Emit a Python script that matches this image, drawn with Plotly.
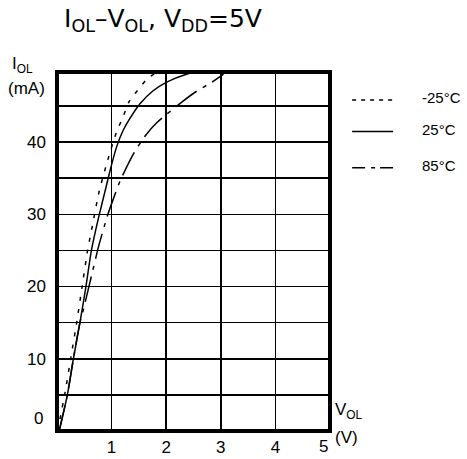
import plotly.graph_objects as go

# -25°C curve
v_m25 = [0.01, 0.14, 0.25, 0.36, 0.46, 0.56, 0.65, 0.77, 0.91, 1.09, 1.20, 1.32, 1.47, 1.67, 1.85]
i_m25 = [0, 5, 10, 15, 20, 25, 28.5, 33.1, 37.0, 41.4, 43.3, 45.6, 47.1, 48.9, 49.7]
# 25°C curve
v_25 = [0.04, 0.19, 0.30, 0.42, 0.53, 0.63, 0.76, 0.88, 0.97, 1.09, 1.21, 1.33, 1.52, 1.76, 2.01, 2.37, 2.55]
i_25 = [0, 5, 10, 15, 20, 25, 29.5, 33.2, 36.0, 39.3, 41.6, 43.2, 45.3, 47.1, 48.3, 49.4, 49.7]
# 85°C curve
v_85 = [0.04, 0.19, 0.30, 0.42, 0.48, 0.61, 0.77, 0.92, 1.03, 1.16, 1.41, 1.61, 1.83, 2.28, 2.55, 2.84, 3.05]
i_85 = [0, 5, 10, 15, 16.7, 20.8, 25.8, 29.7, 32.1, 34.7, 38.5, 40.8, 42.7, 45.5, 47.0, 48.3, 49.4]

series_names = ["-25°C", "25°C", "85°C"]
x_tickvals = [1, 2, 3, 4]
x_ticktext = ["1", "2", "3", "4"]
y_tickvals = [10, 20, 30, 40]
y_ticktext = ["10", "20", "30", "40"]

FONT = "Liberation Sans, Arial, sans-serif"
dashes = ["4px,8px", "solid", "26px,7px,4px,7px"]
legend_dashes = ["4px,5px", "solid", "13px,6px,4px,5px"]

fig = go.Figure()
for v, i, name, d in zip([v_m25, v_25, v_85], [i_m25, i_25, i_85], series_names, dashes):
    fig.add_trace(go.Scatter(x=v, y=i, mode="lines", name=name,
                             line=dict(color="black", width=1.5, dash=d, shape="spline", smoothing=0.6),
                             showlegend=False, hoverinfo="skip"))

fig.update_layout(
    width=467, height=459,
    margin=dict(l=57, r=137, t=72, b=28, autoexpand=False),
    paper_bgcolor="white", plot_bgcolor="white",
    font=dict(family=FONT, size=17, color="black"),
    xaxis=dict(range=[0, 5], tickvals=x_tickvals, ticktext=x_ticktext, automargin=False,
               showgrid=True, gridcolor="black", gridwidth=1.5, zeroline=False,
               showline=False, ticks="", ticklabelstandoff=4, fixedrange=True),
    yaxis=dict(range=[0, 49.7], tickvals=y_tickvals, ticktext=y_ticktext, automargin=False,
               showgrid=True, gridcolor="black", gridwidth=1.5, zeroline=False,
               showline=False, ticks="", ticklabelstandoff=10, fixedrange=True,
               minor=dict(tick0=0, dtick=5, showgrid=True, gridcolor="black", gridwidth=1.5, ticks="")),
)

# plot border
fig.add_shape(type="rect", xref="paper", yref="paper", x0=0, x1=1, y0=0, y1=1,
              line=dict(color="black", width=4))

# legend samples
leg_y = [0.922, 0.834, 0.733]
for name, d, y in zip(series_names, legend_dashes, leg_y):
    fig.add_shape(type="line", xref="paper", yref="paper", x0=1.081, x1=1.231, y0=y, y1=y,
                  line=dict(color="black", width=1.5, dash=d))
    fig.add_annotation(xref="paper", yref="paper", x=1.33, y=y + 0.006, text=name,
                       showarrow=False, xanchor="left", yanchor="middle",
                       font=dict(size=15))

# title
fig.add_annotation(xref="paper", yref="paper", x=0.02, y=1.145,
                   text="I<sub>OL</sub>–V<sub>OL</sub>, V<sub>DD</sub>=5V",
                   showarrow=False, xanchor="left", yanchor="middle",
                   font=dict(size=25, family="DejaVu Sans"))
# axis titles
fig.add_annotation(xref="paper", yref="paper", x=-0.172, y=1.02, text="I<sub>OL</sub>",
                   showarrow=False, xanchor="left", yanchor="middle", font=dict(size=17))
fig.add_annotation(xref="paper", yref="paper", x=-0.185, y=0.955, text="(mA)",
                   showarrow=False, xanchor="left", yanchor="middle", font=dict(size=17))
fig.add_annotation(xref="paper", yref="paper", x=1.011, y=0.055, text="V<sub>OL</sub>",
                   showarrow=False, xanchor="left", yanchor="middle", font=dict(size=17))
fig.add_annotation(xref="paper", yref="paper", x=1.011, y=-0.017, text="(V)",
                   showarrow=False, xanchor="left", yanchor="middle", font=dict(size=17))
# offset tick labels "0" and "5"
fig.add_annotation(x=0, y=0, xref="paper", yref="y", text="0", showarrow=False,
                   xanchor="right", yanchor="middle", xshift=-12, yshift=13)
fig.add_annotation(x=5, y=0, xref="x", yref="paper", text="5", showarrow=False,
                   xanchor="center", yanchor="top", xshift=-7, yshift=-4)

fig.write_html("out.html", config={"displayModeBar": False, "staticPlot": True},
               post_script="document.body.style.margin='0';document.body.style.overflow='hidden';")
